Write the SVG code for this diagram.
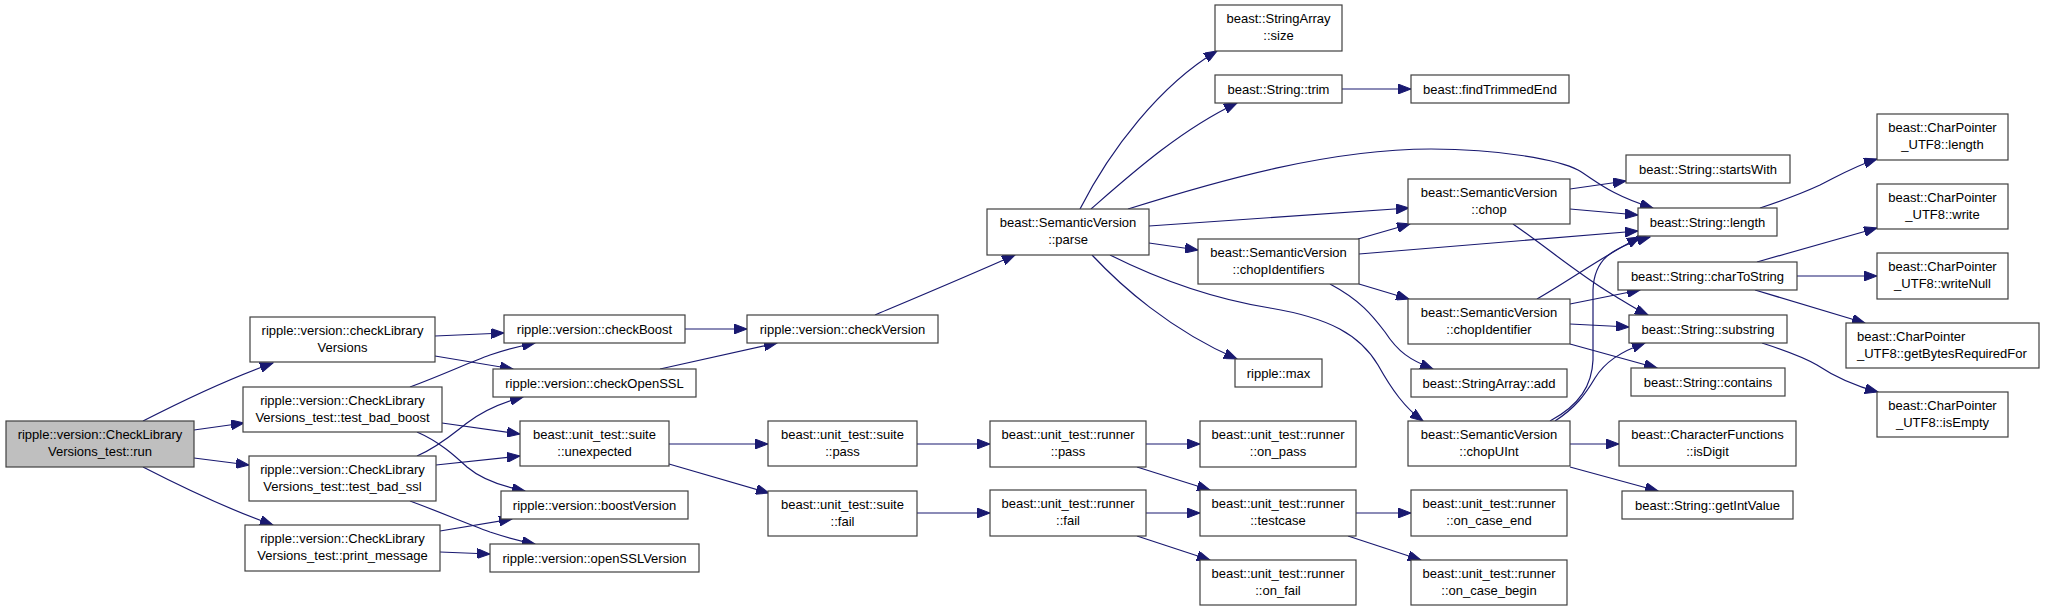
<svg xmlns="http://www.w3.org/2000/svg" width="2045" height="611" viewBox="0 0 2045 611">
<style>
.node rect{fill:#ffffff;stroke:#404040;stroke-width:1.2}
.node.cur rect{fill:#bfbfbf}
.node text{font-family:"Liberation Sans",Arial,Helvetica,sans-serif;font-size:13px;fill:#000;text-anchor:middle}
.node text.l{text-anchor:start}
.edges path{fill:none;stroke:#191970;stroke-width:1.2;marker-end:url(#ah)}
</style>
<defs>
<marker id="ah" markerUnits="userSpaceOnUse" markerWidth="14" markerHeight="10" refX="13" refY="5" orient="auto">
<path d="M0,0 L13,5 L0,10 Z" fill="#191970" stroke="#191970" stroke-width="1"/>
</marker>
</defs>
<rect width="2045" height="611" fill="#ffffff"/>
<g class="edges">
<path d="M143,421 C180,402 225,380 273,363"/>
<path d="M194,430 L244,423"/>
<path d="M194,458 L249,465"/>
<path d="M143,467 C180,486 225,508 273,525"/>
<path d="M435,336 L504,333"/>
<path d="M435,356 L513,369"/>
<path d="M410,387 C445,374 470,362 490,355 C505,350 520,346 535,343"/>
<path d="M442,423 L520,434"/>
<path d="M417,432 C440,442 455,456 467,467 C480,478 500,486 525,491"/>
<path d="M417,456 C440,446 455,432 467,423 C480,413 500,403 523,397"/>
<path d="M436,465 L520,456"/>
<path d="M410,501 C440,512 465,523 490,532 C505,537 520,541 535,544"/>
<path d="M440,531 L512,519"/>
<path d="M440,552 L490,554"/>
<path d="M685,329 L747,329"/>
<path d="M660,369 L777,343"/>
<path d="M875,315 C920,296 970,275 1015,255"/>
<path d="M669,444 L768,444"/>
<path d="M669,464 L769,493"/>
<path d="M917,444 L990,444"/>
<path d="M917,513 L990,513"/>
<path d="M1146,444 L1200,444"/>
<path d="M1137,467 L1210,490"/>
<path d="M1146,513 L1200,513"/>
<path d="M1137,536 L1210,560"/>
<path d="M1356,513 L1411,513"/>
<path d="M1348,536 L1421,560"/>
<path d="M1080,209 C1110,150 1160,85 1217,51"/>
<path d="M1091,209 C1130,175 1180,130 1237,103"/>
<path d="M1128,209 C1220,180 1330,149 1431,149 C1500,149 1560,160 1578,170 C1595,180 1610,195 1653,208"/>
<path d="M1149,226 L1409,208"/>
<path d="M1149,243 L1198,250"/>
<path d="M1092,255 C1120,285 1170,330 1237,359"/>
<path d="M1110,255 C1170,285 1220,300 1270,308 C1330,318 1360,335 1378,365 C1392,390 1405,408 1423,421"/>
<path d="M1358,239 L1410,224"/>
<path d="M1359,254 L1638,231"/>
<path d="M1359,284 L1409,299"/>
<path d="M1330,284 C1360,300 1372,315 1385,332 C1398,352 1410,360 1433,369"/>
<path d="M1570,189 L1626,181"/>
<path d="M1570,209 L1638,215"/>
<path d="M1513,224 C1550,250 1580,275 1610,293 C1625,302 1635,309 1648,315"/>
<path d="M1537,299 C1570,280 1600,258 1640,237"/>
<path d="M1550,421 C1580,405 1592,385 1593,360 L1593,290 C1594,260 1610,248 1650,237"/>
<path d="M1570,304 L1640,290"/>
<path d="M1570,324 L1629,327"/>
<path d="M1570,344 L1657,368"/>
<path d="M1555,421 C1575,408 1585,395 1595,378 C1605,362 1620,352 1645,343"/>
<path d="M1570,444 L1619,444"/>
<path d="M1570,467 L1658,491"/>
<path d="M1342,89 L1411,89"/>
<path d="M1760,208 C1790,198 1805,192 1820,185 C1840,175 1855,166 1877,159"/>
<path d="M1757,262 L1877,228"/>
<path d="M1797,276 L1877,276"/>
<path d="M1755,290 L1865,323"/>
<path d="M1762,343 C1790,352 1805,358 1817,365 C1835,377 1855,386 1878,392"/>
</g>
<g id="n_run" class="node cur"><rect x="6" y="421" width="188" height="46"/><text x="100" y="439">ripple::version::CheckLibrary</text><text x="100" y="456">Versions_test::run</text></g>
<g id="n_checkLibraryVersions" class="node"><rect x="250" y="317" width="185" height="45"/><text x="342.5" y="335">ripple::version::checkLibrary</text><text x="342.5" y="352">Versions</text></g>
<g id="n_test_bad_boost" class="node"><rect x="243" y="387" width="199" height="45"/><text x="342.5" y="405">ripple::version::CheckLibrary</text><text x="342.5" y="422">Versions_test::test_bad_boost</text></g>
<g id="n_test_bad_ssl" class="node"><rect x="249" y="456" width="187" height="45"/><text x="342.5" y="474">ripple::version::CheckLibrary</text><text x="342.5" y="491">Versions_test::test_bad_ssl</text></g>
<g id="n_print_message" class="node"><rect x="245" y="525" width="195" height="46"/><text x="342.5" y="543">ripple::version::CheckLibrary</text><text x="342.5" y="560">Versions_test::print_message</text></g>
<g id="n_checkBoost" class="node"><rect x="504" y="315" width="181" height="28"/><text x="594.5" y="333.5">ripple::version::checkBoost</text></g>
<g id="n_checkOpenSSL" class="node"><rect x="493" y="369" width="203" height="28"/><text x="594.5" y="387.5">ripple::version::checkOpenSSL</text></g>
<g id="n_unexpected" class="node"><rect x="520" y="421" width="149" height="45"/><text x="594.5" y="439">beast::unit_test::suite</text><text x="594.5" y="456">::unexpected</text></g>
<g id="n_boostVersion" class="node"><rect x="501" y="491" width="187" height="28"/><text x="594.5" y="509.5">ripple::version::boostVersion</text></g>
<g id="n_openSSLVersion" class="node"><rect x="490" y="544" width="209" height="28"/><text x="594.5" y="562.5">ripple::version::openSSLVersion</text></g>
<g id="n_checkVersion" class="node"><rect x="747" y="315" width="191" height="28"/><text x="842.5" y="333.5">ripple::version::checkVersion</text></g>
<g id="n_suite_pass" class="node"><rect x="768" y="421" width="149" height="45"/><text x="842.5" y="439">beast::unit_test::suite</text><text x="842.5" y="456">::pass</text></g>
<g id="n_suite_fail" class="node"><rect x="768" y="491" width="149" height="45"/><text x="842.5" y="509">beast::unit_test::suite</text><text x="842.5" y="526">::fail</text></g>
<g id="n_parse" class="node"><rect x="987" y="209" width="162" height="46"/><text x="1068" y="227">beast::SemanticVersion</text><text x="1068" y="244">::parse</text></g>
<g id="n_runner_pass" class="node"><rect x="990" y="421" width="156" height="46"/><text x="1068" y="439">beast::unit_test::runner</text><text x="1068" y="456">::pass</text></g>
<g id="n_runner_fail" class="node"><rect x="990" y="490" width="156" height="46"/><text x="1068" y="508">beast::unit_test::runner</text><text x="1068" y="525">::fail</text></g>
<g id="n_sa_size" class="node"><rect x="1215" y="5" width="127" height="46"/><text x="1278.5" y="23">beast::StringArray</text><text x="1278.5" y="40">::size</text></g>
<g id="n_trim" class="node"><rect x="1215" y="75" width="127" height="28"/><text x="1278.5" y="93.5">beast::String::trim</text></g>
<g id="n_chopIdentifiers" class="node"><rect x="1198" y="239" width="161" height="45"/><text x="1278.5" y="257">beast::SemanticVersion</text><text x="1278.5" y="274">::chopIdentifiers</text></g>
<g id="n_max" class="node"><rect x="1235" y="359" width="87" height="28"/><text x="1278.5" y="377.5">ripple::max</text></g>
<g id="n_on_pass" class="node"><rect x="1200" y="421" width="156" height="46"/><text x="1278" y="439">beast::unit_test::runner</text><text x="1278" y="456">::on_pass</text></g>
<g id="n_testcase" class="node"><rect x="1200" y="490" width="156" height="46"/><text x="1278" y="508">beast::unit_test::runner</text><text x="1278" y="525">::testcase</text></g>
<g id="n_on_fail" class="node"><rect x="1200" y="560" width="156" height="45"/><text x="1278" y="578">beast::unit_test::runner</text><text x="1278" y="595">::on_fail</text></g>
<g id="n_findTrimmedEnd" class="node"><rect x="1411" y="75" width="158" height="28"/><text x="1490" y="93.5">beast::findTrimmedEnd</text></g>
<g id="n_chop" class="node"><rect x="1408" y="179" width="162" height="45"/><text x="1489" y="197">beast::SemanticVersion</text><text x="1489" y="214">::chop</text></g>
<g id="n_chopIdentifier" class="node"><rect x="1408" y="299" width="162" height="45"/><text x="1489" y="317">beast::SemanticVersion</text><text x="1489" y="334">::chopIdentifier</text></g>
<g id="n_sa_add" class="node"><rect x="1411" y="369" width="156" height="28"/><text x="1489" y="387.5">beast::StringArray::add</text></g>
<g id="n_chopUInt" class="node"><rect x="1408" y="421" width="162" height="45"/><text x="1489" y="439">beast::SemanticVersion</text><text x="1489" y="456">::chopUInt</text></g>
<g id="n_on_case_end" class="node"><rect x="1411" y="490" width="156" height="46"/><text x="1489" y="508">beast::unit_test::runner</text><text x="1489" y="525">::on_case_end</text></g>
<g id="n_on_case_begin" class="node"><rect x="1411" y="560" width="156" height="45"/><text x="1489" y="578">beast::unit_test::runner</text><text x="1489" y="595">::on_case_begin</text></g>
<g id="n_startsWith" class="node"><rect x="1626" y="155" width="164" height="28"/><text x="1708" y="173.5">beast::String::startsWith</text></g>
<g id="n_length" class="node"><rect x="1638" y="208" width="139" height="28"/><text x="1707.5" y="226.5">beast::String::length</text></g>
<g id="n_charToString" class="node"><rect x="1618" y="262" width="179" height="28"/><text x="1707.5" y="280.5">beast::String::charToString</text></g>
<g id="n_substring" class="node"><rect x="1629" y="315" width="158" height="28"/><text x="1708" y="333.5">beast::String::substring</text></g>
<g id="n_contains" class="node"><rect x="1631" y="368" width="154" height="28"/><text x="1708" y="386.5">beast::String::contains</text></g>
<g id="n_isDigit" class="node"><rect x="1619" y="421" width="177" height="45"/><text x="1707.5" y="439">beast::CharacterFunctions</text><text x="1707.5" y="456">::isDigit</text></g>
<g id="n_getIntValue" class="node"><rect x="1622" y="491" width="171" height="28"/><text x="1707.5" y="509.5">beast::String::getIntValue</text></g>
<g id="n_cp_length" class="node"><rect x="1877" y="114" width="131" height="46"/><text x="1942.5" y="132">beast::CharPointer</text><text x="1942.5" y="149">_UTF8::length</text></g>
<g id="n_cp_write" class="node"><rect x="1877" y="184" width="131" height="45"/><text x="1942.5" y="202">beast::CharPointer</text><text x="1942.5" y="219">_UTF8::write</text></g>
<g id="n_cp_writeNull" class="node"><rect x="1877" y="253" width="131" height="46"/><text x="1942.5" y="271">beast::CharPointer</text><text x="1942.5" y="288">_UTF8::writeNull</text></g>
<g id="n_cp_getBytes" class="node"><rect x="1846" y="323" width="193" height="45"/><text class="l" x="1857" y="341">beast::CharPointer</text><text class="l" x="1857" y="358">_UTF8::getBytesRequiredFor</text></g>
<g id="n_cp_isEmpty" class="node"><rect x="1877" y="392" width="131" height="45"/><text x="1942.5" y="410">beast::CharPointer</text><text x="1942.5" y="427">_UTF8::isEmpty</text></g>
</svg>
